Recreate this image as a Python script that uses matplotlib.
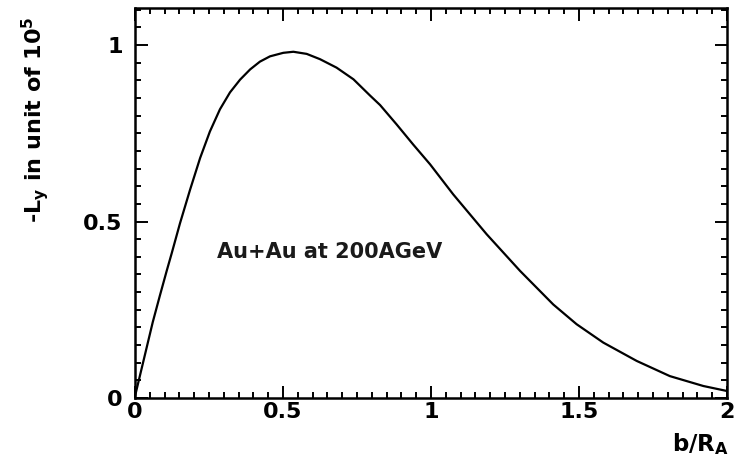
import matplotlib
matplotlib.use("Agg")
import matplotlib.pyplot as plt
from matplotlib.ticker import MultipleLocator

# b/R_A values and -L_y (units of 1e5)
b_over_RA = [0.0, 0.02, 0.04, 0.06, 0.084, 0.107, 0.124, 0.152, 0.186, 0.220,
             0.253, 0.287, 0.321, 0.355, 0.389, 0.422, 0.456, 0.501, 0.535,
             0.580, 0.625, 0.681, 0.738, 0.794, 0.828, 0.884, 0.940, 0.997,
             1.075, 1.188, 1.301, 1.413, 1.492, 1.582, 1.695, 1.807, 1.920, 1.999]
minus_Ly = [0.005, 0.075, 0.145, 0.215, 0.290, 0.360, 0.410, 0.495, 0.590, 0.680,
            0.755, 0.818, 0.866, 0.902, 0.931, 0.953, 0.968, 0.978, 0.981,
            0.975, 0.960, 0.936, 0.903, 0.857, 0.830, 0.775, 0.718, 0.662,
            0.577, 0.464, 0.360, 0.265, 0.209, 0.157, 0.105, 0.062, 0.034, 0.020]

xticks = [0, 0.5, 1, 1.5, 2]
xticklabels = ["0", "0.5", "1", "1.5", "2"]
yticks = [0, 0.5, 1]
yticklabels = ["0", "0.5", "1"]

plt.rcParams['font.family'] = ['DejaVu Sans']
plt.rcParams['mathtext.fontset'] = 'custom'
plt.rcParams['mathtext.rm'] = 'DejaVu Sans:bold'
plt.rcParams['mathtext.it'] = 'DejaVu Sans:bold'
plt.rcParams['mathtext.bf'] = 'DejaVu Sans:bold'

fig = plt.figure(figsize=(7.34, 4.61), dpi=100)
ax = fig.add_axes([135/734, 1 - 398/461, (727-135)/734, (398-8)/461])

ax.plot(b_over_RA, minus_Ly, color='black', lw=1.6, solid_joinstyle='round')

ax.set_xlim(0, 2)
ax.set_ylim(0, 1.105)
ax.set_xticks(xticks)
ax.set_xticklabels(xticklabels)
ax.set_yticks(yticks)
ax.set_yticklabels(yticklabels)
ax.xaxis.set_minor_locator(MultipleLocator(0.05))
ax.yaxis.set_minor_locator(MultipleLocator(0.05))
ax.tick_params(which='both', direction='in', top=True, right=True, width=1.4)
ax.tick_params(which='major', length=9, labelsize=16)
ax.tick_params(axis='y', which='major', pad=9)
ax.tick_params(axis='x', which='major', pad=3)
ax.tick_params(which='minor', length=4)
for lab in ax.get_xticklabels() + ax.get_yticklabels():
    lab.set_fontweight('bold')
for s in ax.spines.values():
    s.set_linewidth(1.8)

ax.set_ylabel(r'-L$_{\mathrm{y}}$ in unit of 10$^{5}$', fontsize=16, fontweight='bold')
ax.yaxis.set_label_coords(-0.142, 0.713)
ax.text(1.003, -0.085, r'b/R$_{\mathrm{A}}$', transform=ax.transAxes, ha='right', va='top',
        fontsize=16.5, fontweight='bold')

ax.text(0.277, 0.397, 'Au+Au at 200AGeV', fontsize=15, fontweight='bold', va='baseline',
        color='#1a1a1a')

fig.savefig('out.png', dpi=100)
